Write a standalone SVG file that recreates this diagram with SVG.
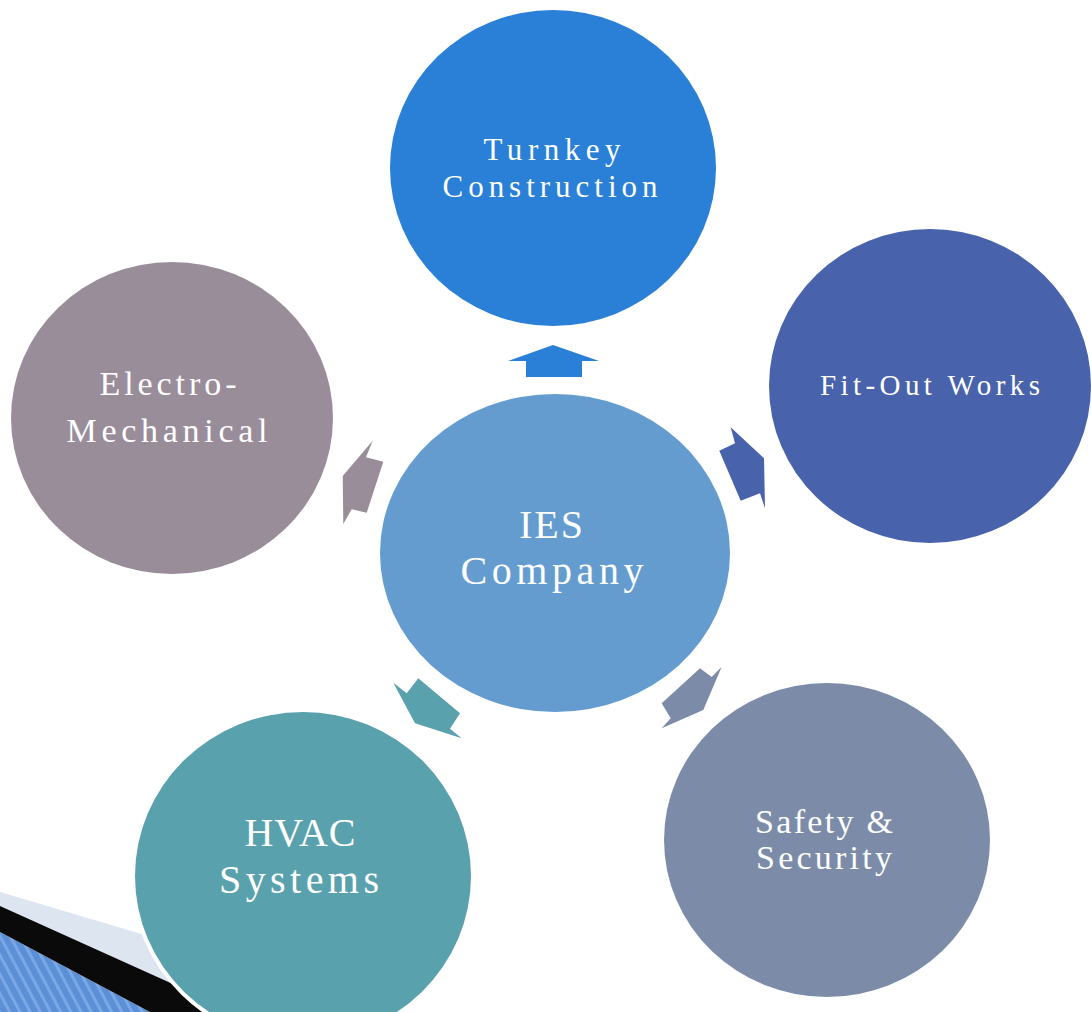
<svg xmlns="http://www.w3.org/2000/svg" width="1091" height="1012" viewBox="0 0 1091 1012">
<defs>
<pattern id="stripes" width="9" height="9" patternUnits="userSpaceOnUse" patternTransform="rotate(-28)">
<rect width="9" height="9" fill="#5b8fd6"/>
<rect width="3" height="9" fill="#7aa8e6"/>
</pattern>
</defs>
<style>
.lbl{font-family:"Liberation Serif","DejaVu Serif",serif;fill:#ffffff;text-anchor:middle}
</style>
<rect width="1091" height="1012" fill="#ffffff"/>
<g id="corner-decoration">
<polygon points="0,892 175,944 300,1012 235,1012 0,906" fill="#dde5f0"/>
<polygon points="0,932 150,1012 0,1012" fill="url(#stripes)"/>
<polygon points="0,906 235,1012 150,1012 0,932" fill="#0a0a0a"/>
</g>
<g id="connectors">
<polygon id="arrow-turnkey" points="553,345 599,361 582,361 582,377 526,377 526,361 508,361" fill="#2a7fd6"/>
<polygon id="arrow-fitout" points="730.7,427.3 735,443.3 719.3,450.7 740.7,500.7 760,493.3 765,508.3 764,458.3" fill="#4863ab"/>
<polygon id="arrow-electro" points="372.7,440.7 366,457.3 383.3,461.7 366.7,512.7 351.7,509.3 343.3,524 342.7,476" fill="#9a8d9a"/>
<polygon id="arrow-hvac" points="393.3,682.7 406.7,693.3 418.3,678.3 460,713.3 450,728.7 461.7,738.3 415,723.3" fill="#5aa1ae"/>
<polygon id="arrow-safety" points="721.7,666.7 711.7,677 700,668.3 661.7,703.3 670.7,718.3 661.7,728.3 703.3,710" fill="#7c8ca8"/>
</g>
<g id="node-turnkey">
<ellipse cx="553" cy="168" rx="163" ry="158" fill="#2a7fd6"/>
<text class="lbl" x="552" y="160" font-size="31" textLength="137" lengthAdjust="spacing">Turnkey</text>
<text class="lbl" x="550" y="197" font-size="31" textLength="215" lengthAdjust="spacing">Construction</text>
</g>
<g id="node-fitout">
<ellipse cx="930" cy="386" rx="161" ry="157" fill="#4863ab"/>
<text class="lbl" x="930" y="395" font-size="29" textLength="220" lengthAdjust="spacing">Fit-Out Works</text>
</g>
<g id="node-electro">
<ellipse cx="172" cy="418" rx="161" ry="156" fill="#9a8d9a"/>
<text class="lbl" x="168" y="395" font-size="34" textLength="137" lengthAdjust="spacing">Electro-</text>
<text class="lbl" x="167" y="442" font-size="34" textLength="201" lengthAdjust="spacing">Mechanical</text>
</g>
<g id="node-ies">
<ellipse cx="555" cy="553" rx="175" ry="159" fill="#649cd0"/>
<text class="lbl" x="551" y="538" font-size="40" textLength="64" lengthAdjust="spacing">IES</text>
<text class="lbl" x="552" y="584" font-size="40" textLength="183" lengthAdjust="spacing">Company</text>
</g>
<g id="node-hvac">
<ellipse cx="303" cy="876" rx="172" ry="168" fill="#ffffff"/>
<ellipse cx="303" cy="876" rx="168" ry="164" fill="#5aa1ae"/>
<text class="lbl" x="300" y="846" font-size="40" textLength="111" lengthAdjust="spacing">HVAC</text>
<text class="lbl" x="299" y="893" font-size="40" textLength="160" lengthAdjust="spacing">Systems</text>
</g>
<g id="node-safety">
<ellipse cx="827" cy="840" rx="163" ry="157" fill="#7c8ca8"/>
<text class="lbl" x="824" y="833" font-size="34" textLength="138" lengthAdjust="spacing">Safety &amp;</text>
<text class="lbl" x="824" y="869" font-size="34" textLength="136" lengthAdjust="spacing">Security</text>
</g>
</svg>
